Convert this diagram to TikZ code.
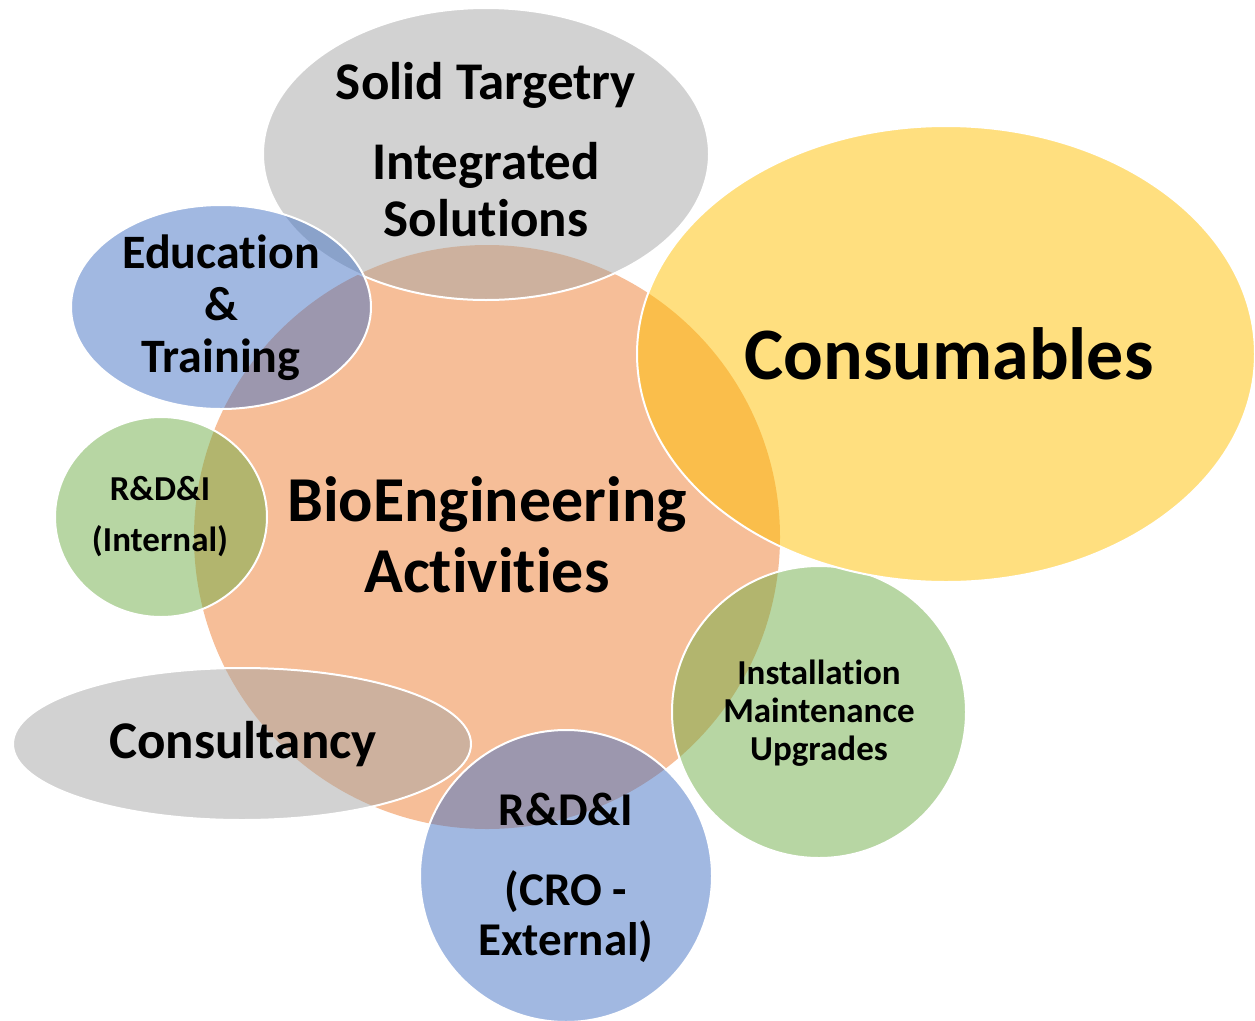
\documentclass[tikz,border=0pt]{standalone}
\usepackage{fontspec}
\setmainfont{Carlito}[Ligatures=NoCommon]
\usepackage{tikz}
\usetikzlibrary{shapes.geometric}
\usetikzlibrary{positioning}
\definecolor{morange}{RGB}{237,125,49}
\definecolor{mblue}{RGB}{68,114,196}
\definecolor{mgray}{RGB}{165,165,165}
\definecolor{myellow}{RGB}{255,192,0}
\definecolor{mgreen}{RGB}{112,173,71}
\tikzset{bubble/.style = {ellipse, inner sep = 0, outer sep = 0, fill = #1,
                          fill opacity = 0.5, draw = white, draw opacity = 1,
                          line width = 2pt}}
\tikzset{lbl/.style 2 args = {align = center, inner sep = 0, text = black,
                              font = \bfseries\fontsize{#1}{#2}\selectfont}}
\begin{document}
\begin{tikzpicture}[x=1pt, y=-1pt]
    \useasboundingbox (0, 0) rectangle (1255, 1020);
    \node [bubble=morange, draw=none, minimum width=586, minimum height=584] (core) at (487, 537) {};
    \node [bubble=mgray, minimum width=446, minimum height=292] (solid) at (486, 154) {};
    \node [bubble=mblue, minimum width=300, minimum height=204] (edu) at (221, 307) {};
    \node [bubble=mgreen, minimum width=212, minimum height=200] (intl) at (161, 517) {};
    \node [bubble=mgray, minimum width=458, minimum height=152] (consult) at (242, 744) {};
    \node [bubble=mblue, minimum width=292, minimum height=292] (cro) at (566, 876) {};
    \node [bubble=mgreen, minimum width=294, minimum height=292] (inst) at (819, 712) {};
    \node [bubble=myellow, minimum width=618, minimum height=456] (cons) at (946, 354) {};
    % labels
    \node [lbl={64}{71}] (coretxt) at (487, 535) {BioEngineering\\Activities};
    \node [lbl={53}{57}] (solidtxt) at (486, 150) {Solid Targetry\\[23pt]Integrated\\Solutions};
    \node [lbl={48}{52}] (edutxt) at (221, 308) {Education\\\&\\Training};
    \node [lbl={35}{42}] (intltxt) at (160, 517) {R\&D\&I\\[9pt](Internal)};
    \node [lbl={53}{60}] (consulttxt) at (243, 744) {Consultancy};
    \node [lbl={47}{50}] (crotxt) at (566, 878) {R\&D\&I\\[30pt](CRO -\\External)};
    \node [lbl={35}{38}] (insttxt) at (819, 713) {Installation\\Maintenance\\Upgrades};
    \node [lbl={74}{90}] (constxt) at (949, 354) {Consumables};
\end{tikzpicture}
\end{document}
